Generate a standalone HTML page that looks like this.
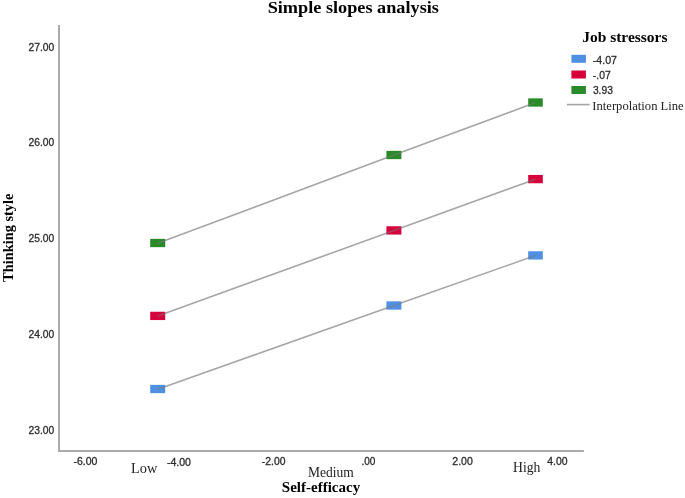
<!DOCTYPE html>
<html>
<head>
<meta charset="utf-8">
<style>
html,body{margin:0;padding:0;background:#fff;}
body{width:685px;height:498px;overflow:hidden;position:relative;}
svg{position:absolute;left:0;top:0;will-change:transform;}
</style>
</head>
<body>
<svg width="685" height="498" viewBox="0 0 685 498" xmlns="http://www.w3.org/2000/svg">

  <defs>
    <clipPath id="mk">
      <rect x="150.2" y="238.85" width="15" height="8.3"/>
      <rect x="386.4" y="150.85" width="15" height="8.3"/>
      <rect x="528.2" y="98.35" width="14.6" height="8.3"/>
      <rect x="150.2" y="311.75" width="15" height="8.3"/>
      <rect x="386.4" y="226.25" width="15" height="8.3"/>
      <rect x="528.2" y="174.95" width="14.6" height="8.3"/>
      <rect x="150.2" y="384.85" width="15" height="8.3"/>
      <rect x="386.4" y="301.35" width="15" height="8.3"/>
      <rect x="528.2" y="251.25" width="14.6" height="8.3"/>
    </clipPath>
  </defs>
  <g stroke="#aaaaaa" stroke-width="2" fill="none">
    <line x1="59" y1="25" x2="59" y2="451.9"/>
    <line x1="58" y1="450.9" x2="583.9" y2="450.9"/>
  </g>
  <g stroke="#a6a6a6" stroke-width="1.6" fill="none">
    <polyline points="157.7,243.2 393.9,155.1 535.5,102.6"/>
    <polyline points="157.7,316.1 393.9,230.5 535.5,179.2"/>
    <polyline points="157.7,389.2 393.9,305.6 535.5,255.5"/>
  </g>
  <g>
    <rect x="150.2" y="238.85" width="15" height="8.3" fill="#2a8a2a"/>
    <rect x="386.4" y="150.85" width="15" height="8.3" fill="#2a8a2a"/>
    <rect x="528.2" y="98.35" width="14.6" height="8.3" fill="#2a8a2a"/>
    <rect x="150.2" y="311.75" width="15" height="8.3" fill="#d6003a"/>
    <rect x="386.4" y="226.25" width="15" height="8.3" fill="#d6003a"/>
    <rect x="528.2" y="174.95" width="14.6" height="8.3" fill="#d6003a"/>
    <rect x="150.2" y="384.85" width="15" height="8.3" fill="#5090e2"/>
    <rect x="386.4" y="301.35" width="15" height="8.3" fill="#5090e2"/>
    <rect x="528.2" y="251.25" width="14.6" height="8.3" fill="#5090e2"/>
  </g>
  <g stroke="#7a7a7a" stroke-width="1.5" fill="none" opacity="0.55" clip-path="url(#mk)">
    <polyline points="157.7,243.2 393.9,155.1 535.5,102.6"/>
    <polyline points="157.7,316.1 393.9,230.5 535.5,179.2"/>
    <polyline points="157.7,389.2 393.9,305.6 535.5,255.5"/>
  </g>
  <rect x="571.4" y="54.8" width="14.5" height="8" fill="#5090e2"/>
  <rect x="571.4" y="70.5" width="14.5" height="8" fill="#d6003a"/>
  <rect x="571.4" y="86.0" width="14.5" height="8" fill="#2a8a2a"/>
  <line x1="566.9" y1="104.6" x2="589.7" y2="104.6" stroke="#a6a6a6" stroke-width="1.6"/>

  <text x="267.66" y="13.20" font-family='"Liberation Serif", serif' font-size="17.20" fill="#000" font-weight="bold" textLength="171.29" lengthAdjust="spacingAndGlyphs">Simple slopes analysis</text>
  <text x="28.48" y="51.04" font-family='"Liberation Sans", sans-serif' font-size="11.00" fill="#2a2a2a" stroke="#2a2a2a" stroke-width="0.3" textLength="25.73" lengthAdjust="spacingAndGlyphs">27.00</text>
  <text x="28.48" y="146.44" font-family='"Liberation Sans", sans-serif' font-size="11.00" fill="#2a2a2a" stroke="#2a2a2a" stroke-width="0.3" textLength="25.78" lengthAdjust="spacingAndGlyphs">26.00</text>
  <text x="28.48" y="242.02" font-family='"Liberation Sans", sans-serif' font-size="11.00" fill="#2a2a2a" stroke="#2a2a2a" stroke-width="0.3" textLength="25.78" lengthAdjust="spacingAndGlyphs">25.00</text>
  <text x="28.48" y="338.49" font-family='"Liberation Sans", sans-serif' font-size="11.00" fill="#2a2a2a" stroke="#2a2a2a" stroke-width="0.3" textLength="25.78" lengthAdjust="spacingAndGlyphs">24.00</text>
  <text x="28.48" y="433.84" font-family='"Liberation Sans", sans-serif' font-size="11.00" fill="#2a2a2a" stroke="#2a2a2a" stroke-width="0.3" textLength="25.78" lengthAdjust="spacingAndGlyphs">23.00</text>
  <text x="73.48" y="465.37" font-family='"Liberation Sans", sans-serif' font-size="11.00" fill="#2a2a2a" stroke="#2a2a2a" stroke-width="0.3" textLength="23.98" lengthAdjust="spacingAndGlyphs">-6.00</text>
  <text x="166.90" y="465.58" font-family='"Liberation Sans", sans-serif' font-size="11.00" fill="#2a2a2a" stroke="#2a2a2a" stroke-width="0.3" textLength="24.08" lengthAdjust="spacingAndGlyphs">-4.00</text>
  <text x="261.77" y="464.71" font-family='"Liberation Sans", sans-serif' font-size="11.00" fill="#2a2a2a" stroke="#2a2a2a" stroke-width="0.3" textLength="23.74" lengthAdjust="spacingAndGlyphs">-2.00</text>
  <text x="361.42" y="464.86" font-family='"Liberation Sans", sans-serif' font-size="11.00" fill="#2a2a2a" stroke="#2a2a2a" stroke-width="0.3" textLength="14.00" lengthAdjust="spacingAndGlyphs">.00</text>
  <text x="452.32" y="464.83" font-family='"Liberation Sans", sans-serif' font-size="11.00" fill="#2a2a2a" stroke="#2a2a2a" stroke-width="0.3" textLength="20.48" lengthAdjust="spacingAndGlyphs">2.00</text>
  <text x="547.31" y="465.08" font-family='"Liberation Sans", sans-serif' font-size="11.00" fill="#2a2a2a" stroke="#2a2a2a" stroke-width="0.3" textLength="20.31" lengthAdjust="spacingAndGlyphs">4.00</text>
  <text x="131.04" y="472.50" font-family='"Liberation Serif", serif' font-size="14.00" fill="#222" textLength="26.31" lengthAdjust="spacingAndGlyphs">Low</text>
  <text x="307.88" y="476.81" font-family='"Liberation Serif", serif' font-size="14.00" fill="#222" textLength="45.79" lengthAdjust="spacingAndGlyphs">Medium</text>
  <text x="513.11" y="471.64" font-family='"Liberation Serif", serif' font-size="14.00" fill="#222" textLength="27.35" lengthAdjust="spacingAndGlyphs">High</text>
  <text x="281.83" y="492.06" font-family='"Liberation Serif", serif' font-size="15.00" fill="#000" font-weight="bold" textLength="78.31" lengthAdjust="spacingAndGlyphs">Self-efficacy</text>
  <text transform="translate(12.99,281.93) rotate(-90)" font-family='"Liberation Serif", serif' font-size="15.00" fill="#000" font-weight="bold" textLength="88.32" lengthAdjust="spacingAndGlyphs">Thinking style</text>
  <text x="582.24" y="42.45" font-family='"Liberation Serif", serif' font-size="15.50" fill="#000" font-weight="bold" textLength="85.20" lengthAdjust="spacingAndGlyphs">Job stressors</text>
  <text x="592.84" y="63.70" font-family='"Liberation Sans", sans-serif' font-size="11.50" fill="#2a2a2a" stroke="#2a2a2a" stroke-width="0.3" textLength="24.16" lengthAdjust="spacingAndGlyphs">-4.07</text>
  <text x="592.85" y="79.02" font-family='"Liberation Sans", sans-serif' font-size="11.50" fill="#2a2a2a" stroke="#2a2a2a" stroke-width="0.3" textLength="17.87" lengthAdjust="spacingAndGlyphs">-.07</text>
  <text x="592.92" y="93.86" font-family='"Liberation Sans", sans-serif' font-size="11.50" fill="#2a2a2a" stroke="#2a2a2a" stroke-width="0.3" textLength="19.97" lengthAdjust="spacingAndGlyphs">3.93</text>
  <text x="592.30" y="110.14" font-family='"Liberation Serif", serif' font-size="12.50" fill="#222" textLength="91.44" lengthAdjust="spacingAndGlyphs">Interpolation Line</text>
</svg>
</body>
</html>
